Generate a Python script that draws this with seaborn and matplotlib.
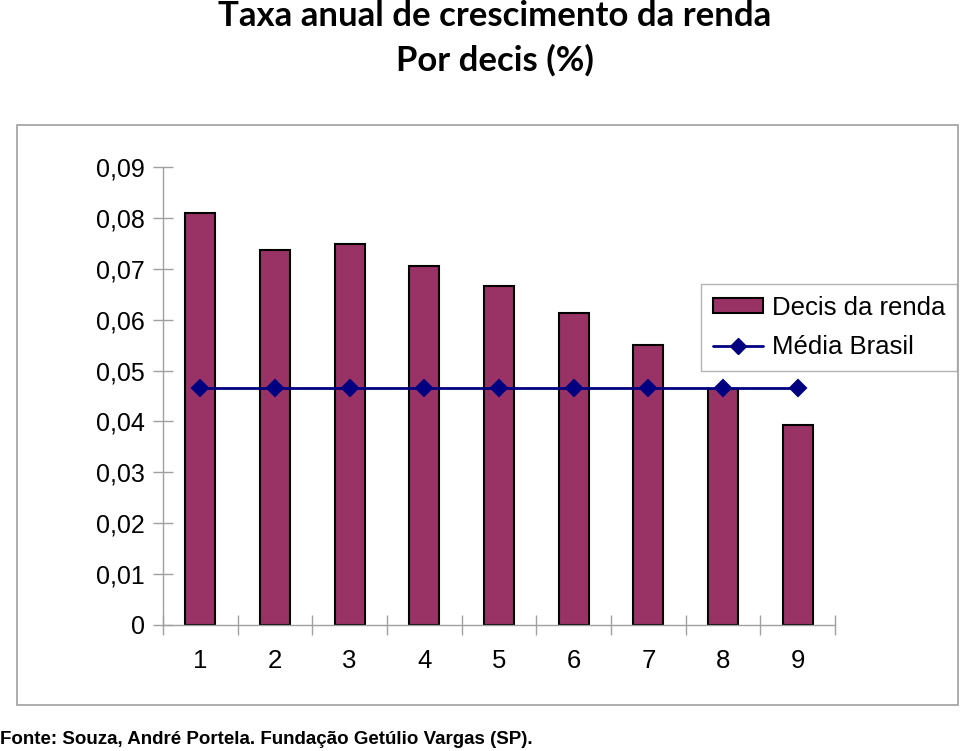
import numpy as np
import pandas as pd
import seaborn as sns
import matplotlib.pyplot as plt
from matplotlib.patches import Rectangle, Patch
from matplotlib.lines import Line2D
from matplotlib.ticker import FuncFormatter, FixedLocator

# dados
decis = ['1', '2', '3', '4', '5', '6', '7', '8', '9']
renda = [0.0809, 0.0737, 0.0749, 0.0705, 0.0666, 0.0613, 0.0550, 0.0464, 0.0393]
media_brasil = [0.0466] * 9

df = pd.DataFrame({'decil': decis, 'renda': renda, 'media': media_brasil})

sns.set_style('white')
plt.rcParams['font.family'] = ['Liberation Sans', 'DejaVu Sans']
plt.rcParams['text.color'] = 'black'
plt.rcParams['xtick.color'] = 'black'
plt.rcParams['ytick.color'] = 'black'

fig = plt.figure(figsize=(9.6, 7.51), dpi=100)
ax = fig.add_axes([163 / 960, 1 - 625 / 751, (835 - 163) / 960, (625 - 167) / 751])

# caixa externa do gráfico
fig.patches.append(Rectangle((17 / 960, 1 - 705 / 751), (958 - 17) / 960, (705 - 125) / 751,
                             transform=fig.transFigure, fill=False,
                             edgecolor='#a0a0a0', linewidth=1.2, zorder=0))

sns.barplot(data=df, x='decil', y='renda', color='#993366', saturation=1,
            width=0.4, edgecolor='black', linewidth=1.5, ax=ax, zorder=2)
sns.pointplot(data=df, x='decil', y='media', color='#000080', markers='D',
              linestyles='-', markersize=8, linewidth=2, ax=ax)
for c in ax.collections:
    c.set_zorder(4)
for l in ax.lines:
    l.set_zorder(4)

ax.set_xlim(-0.5, 8.5)
ax.set_ylim(0, 0.09)
ax.set_yticks(np.arange(0, 0.0901, 0.01))
ax.yaxis.set_major_formatter(FuncFormatter(
    lambda v, p: '0' if abs(v) < 1e-9 else f'{v:.2f}'.replace('.', ',')))
ax.xaxis.set_minor_locator(FixedLocator(np.arange(-0.5, 9, 1)))
ax.tick_params(axis='x', which='major', bottom=True, length=0, pad=17, labelsize=18.5,
               labelcolor='black')
ax.tick_params(axis='x', which='minor', bottom=True, length=14, width=1, color='#a0a0a0',
               direction='inout')
ax.tick_params(axis='y', left=True, length=14, width=1, color='#a0a0a0', direction='inout',
               pad=6, labelsize=18, labelcolor='black')
ax.set_xlabel('')
ax.set_ylabel('')
for s in ['top', 'right']:
    ax.spines[s].set_visible(False)
for s in ['left', 'bottom']:
    ax.spines[s].set_color('#a0a0a0')
    ax.spines[s].set_linewidth(1)

handles = [Patch(facecolor='#993366', edgecolor='black', linewidth=1.5),
           Line2D([0], [0], color='#000080', marker='D', markersize=8, linewidth=2)]
leg = fig.legend(handles, ['Decis da renda', 'Média Brasil'],
                 loc='upper right', bbox_to_anchor=(957 / 960, 1 - 284 / 751),
                 fontsize=18.5, frameon=True, fancybox=False, handlelength=1.95,
                 handleheight=0.5, handletextpad=0.35, borderaxespad=0, borderpad=0.45,
                 labelspacing=0.6)
leg.get_frame().set_edgecolor('#a0a0a0')
leg.get_frame().set_linewidth(1)

fig.text(495 / 960, 1 - 16 / 751, 'Taxa anual de crescimento da renda', ha='center', va='center',
         fontsize=25, fontweight='bold', family=['Lato', 'DejaVu Sans'])
fig.text(495 / 960, 1 - 60 / 751, 'Por decis (%)', ha='center', va='center',
         fontsize=25, fontweight='bold', family=['Lato', 'DejaVu Sans'])
fig.text(0, 1 - 739 / 751, 'Fonte: Souza, André Portela. Fundação Getúlio Vargas (SP).',
         ha='left', va='center', fontsize=13.5, fontweight='bold')

fig.savefig('out.png', dpi=100)
